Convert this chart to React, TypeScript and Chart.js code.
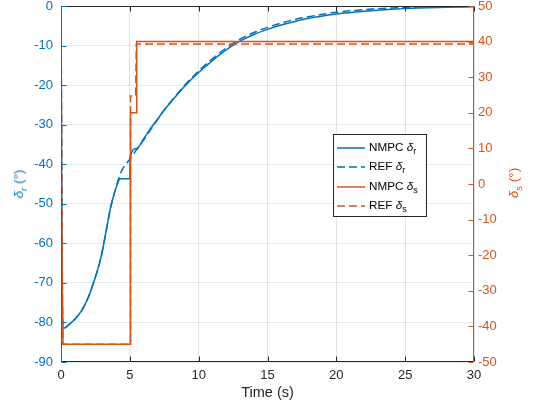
import React, { useEffect, useRef } from "react";
import { Chart, registerables } from "chart.js";
Chart.register(...registerables);

const BLUE = "#0072BD";
const ORANGE = "#D95319";
const AX = "#262626";
const FONT = "'Liberation Sans', Arial, Helvetica, sans-serif";

// x axis (time, s)
const xTicks = [0, 5, 10, 15, 20, 25, 30];
const leftTicks = [-90, -80, -70, -60, -50, -40, -30, -20, -10, 0];
const rightTicks = [-50, -40, -30, -20, -10, 0, 10, 20, 30, 40, 50];

// NMPC delta_r (left axis)
const tNmpcR = [0, 0.12, 0.3, 0.6, 1.0, 1.5, 2.0, 2.5, 2.8, 3.0, 3.3, 3.6, 3.9, 4.1, 4.3, 5.0, 5.02, 5.5, 6, 6.5, 7, 7.5, 8, 9, 10, 11, 12, 13, 14, 15, 16, 17, 18, 19, 20, 22, 24, 26, 28, 30];
const nmpcR = [0, -81.5, -81.3, -80.5, -79.2, -77, -73.5, -68.5, -65, -62, -56.5, -51, -47, -45, -43.7, -43.7, -38.2, -36, -33.6, -31, -28.7, -26.3, -24.2, -20.2, -16.8, -13.8, -11.1, -8.9, -7.2, -5.9, -4.8, -3.9, -3.1, -2.5, -2.0, -1.3, -0.8, -0.5, -0.3, -0.2];

// REF delta_r (left axis)
const tRefR = [0, 0.12, 0.3, 0.6, 1.0, 1.5, 2.0, 2.5, 2.8, 3.0, 3.3, 3.6, 3.9, 4.1, 4.43, 4.87, 5.0, 5.5, 6, 6.5, 7, 7.5, 8, 9, 10, 11, 12, 13, 14, 15, 16, 17, 18, 19, 20, 22, 24, 26, 28, 30];
const refR = [0, -81.5, -81.3, -80.5, -79.2, -77, -73.5, -68.5, -65, -62, -56.5, -51, -47, -44.6, -41.5, -39.3, -38.7, -36.3, -33.9, -31.3, -28.8, -26.3, -24.1, -20, -16.4, -13.3, -10.6, -8.4, -6.7, -5.4, -4.3, -3.4, -2.7, -2.1, -1.6, -0.9, -0.5, -0.25, -0.1, -0.05];

// NMPC delta_s (right axis)
const tNmpcS = [0, 0.15, 5.05, 5.05, 5.45, 5.5, 30];
const nmpcS = [0, -45, -45, 20, 20, 40, 40];

// REF delta_s (right axis)
const tRefS = [0, 0.12, 5.05, 5.05, 5.42, 5.47, 30];
const refS = [50, -45, -45, 24.7, 24.7, 39.3, 39.3];

const pts = (t: number[], v: number[]) => t.map((x, i) => ({ x, y: v[i] }));

const boxPlugin = {
  id: "matlabBox",
  afterDraw(chart: any) {
    const { ctx, chartArea: a, scales } = chart;
    const L = a.left + 0.5, R = a.right - 0.5, T = a.top + 0.5, B = a.bottom - 0.5;
    const tl = 5;
    ctx.save();
    ctx.lineWidth = 1;
    ctx.strokeStyle = AX;
    ctx.beginPath();
    ctx.moveTo(L, T); ctx.lineTo(R, T);
    ctx.moveTo(L, B); ctx.lineTo(R, B);
    xTicks.forEach((v) => {
      const px = Math.round(scales.x.getPixelForValue(v)) + 0.5;
      ctx.moveTo(px, B); ctx.lineTo(px, B - tl);
      ctx.moveTo(px, T); ctx.lineTo(px, T + tl);
    });
    ctx.stroke();
    ctx.strokeStyle = BLUE;
    ctx.beginPath();
    ctx.moveTo(L, T); ctx.lineTo(L, B);
    leftTicks.forEach((v) => {
      const py = Math.round(scales.y.getPixelForValue(v)) + 0.5;
      ctx.moveTo(L, py); ctx.lineTo(L + tl, py);
    });
    ctx.stroke();
    ctx.strokeStyle = ORANGE;
    ctx.beginPath();
    ctx.moveTo(R, T); ctx.lineTo(R, B);
    rightTicks.forEach((v) => {
      const py = Math.round(scales.y1.getPixelForValue(v)) + 0.5;
      ctx.moveTo(R, py); ctx.lineTo(R - tl, py);
    });
    ctx.stroke();
    ctx.restore();
  },
};

function LegendLine({ color, dashed }: { color: string; dashed: boolean }) {
  return (
    <svg width={28} height={4} style={{ display: "block", marginRight: 4 }}>
      <line x1={0} y1={2} x2={28} y2={2} stroke={color} strokeWidth={1.5} strokeDasharray={dashed ? "8 4" : undefined} />
    </svg>
  );
}

const legendItems = [
  { label: "NMPC", sub: "r", color: BLUE, dashed: false },
  { label: "REF", sub: "r", color: BLUE, dashed: true },
  { label: "NMPC", sub: "s", color: ORANGE, dashed: false },
  { label: "REF", sub: "s", color: ORANGE, dashed: true },
];

const fitY = (w: number) => (s: any) => {
  s.width = w;
  s.paddingTop = 0;
  s.paddingBottom = 0;
};

export default function App() {
  const ref = useRef<HTMLCanvasElement>(null);
  useEffect(() => {
    if (!ref.current) return;
    const chart = new Chart(ref.current, {
      type: "line",
      data: {
        datasets: [
          { label: "NMPC δr", data: pts(tNmpcR, nmpcR), yAxisID: "y", borderColor: BLUE, borderWidth: 1.5, pointRadius: 0, cubicInterpolationMode: "monotone", order: 4 },
          { label: "REF δr", data: pts(tRefR, refR), yAxisID: "y", borderColor: BLUE, borderWidth: 1.5, borderDash: [8, 4], pointRadius: 0, cubicInterpolationMode: "monotone", order: 3 },
          { label: "NMPC δs", data: pts(tNmpcS, nmpcS), yAxisID: "y1", borderColor: ORANGE, borderWidth: 1.5, pointRadius: 0, tension: 0, order: 2 },
          { label: "REF δs", data: pts(tRefS, refS), yAxisID: "y1", borderColor: ORANGE, borderWidth: 1.5, borderDash: [8, 4], pointRadius: 0, tension: 0, order: 1 },
        ],
      },
      options: {
        responsive: false,
        animation: false,
        layout: { padding: { top: 6, left: 0, right: 0, bottom: 0 } },
        plugins: { legend: { display: false }, tooltip: { enabled: false } },
        scales: {
          x: {
            type: "linear",
            min: 0,
            max: 30,
            afterBuildTicks: (s: any) => { s.ticks = xTicks.map((v) => ({ value: v })); },
            afterFit: (s: any) => { s.height = 46; s.paddingLeft = 0; s.paddingRight = 0; },
            grid: { color: "rgba(38,38,38,0.13)", drawTicks: false },
            border: { display: false },
            ticks: { color: AX, font: { family: FONT, size: 13 }, padding: 6, maxRotation: 0 },
            title: { display: true, text: "Time (s)", color: AX, font: { family: FONT, size: 14.5 }, padding: { top: 0, bottom: 6 } },
          },
          y: {
            type: "linear",
            position: "left",
            min: -90,
            max: 0,
            afterBuildTicks: (s: any) => { s.ticks = leftTicks.map((v) => ({ value: v })); },
            afterFit: fitY(61),
            grid: { color: "rgba(0,114,189,0.13)", drawTicks: false },
            border: { display: false },
            ticks: { color: BLUE, font: { family: FONT, size: 13 }, padding: 8 },
          },
          y1: {
            type: "linear",
            position: "right",
            min: -50,
            max: 50,
            afterBuildTicks: (s: any) => { s.ticks = rightTicks.map((v) => ({ value: v })); },
            afterFit: fitY(59),
            grid: { display: false, drawTicks: false },
            border: { display: false },
            ticks: { color: ORANGE, font: { family: FONT, size: 13 }, padding: 4 },
          },
        },
      },
      plugins: [boxPlugin],
    } as any);
    return () => chart.destroy();
  }, []);

  const titleStyle = (left: number, top: number, color: string): React.CSSProperties => ({
    position: "absolute",
    left,
    top,
    transform: "translate(-50%, -50%) rotate(-90deg)",
    whiteSpace: "nowrap",
    color,
    fontFamily: FONT,
    fontSize: 13.5,
    lineHeight: 1,
  });

  return (
    <div style={{ position: "fixed", left: 0, top: 0, width: 533, height: 408, background: "#fff" }}>
      <canvas ref={ref} width={533} height={408} style={{ display: "block" }} />
      <div style={titleStyle(20, 184, BLUE)}>
        <i>δ</i><sub style={{ fontSize: 9.5 }}>r</sub> (°)
      </div>
      <div style={titleStyle(515, 183, ORANGE)}>
        <i>δ</i><sub style={{ fontSize: 9.5 }}>s</sub> (°)
      </div>
      <div
        style={{
          position: "absolute",
          left: 333,
          top: 134,
          width: 94,
          height: 83,
          border: `1px solid ${AX}`,
          background: "#fff",
          boxSizing: "border-box",
          fontFamily: FONT,
          fontSize: 11.7,
          color: "#000",
        }}
      >
        {legendItems.map((it, i) => (
          <div
            key={i}
            style={{
              position: "absolute",
              left: 3,
              top: 3 + i * 19.5,
              height: 19.5,
              display: "flex",
              alignItems: "center",
              whiteSpace: "nowrap",
            }}
          >
            <LegendLine color={it.color} dashed={it.dashed} />
            <span>
              {it.label} <i>δ</i><sub style={{ fontSize: 9 }}>{it.sub}</sub>
            </span>
          </div>
        ))}
      </div>
    </div>
  );
}
